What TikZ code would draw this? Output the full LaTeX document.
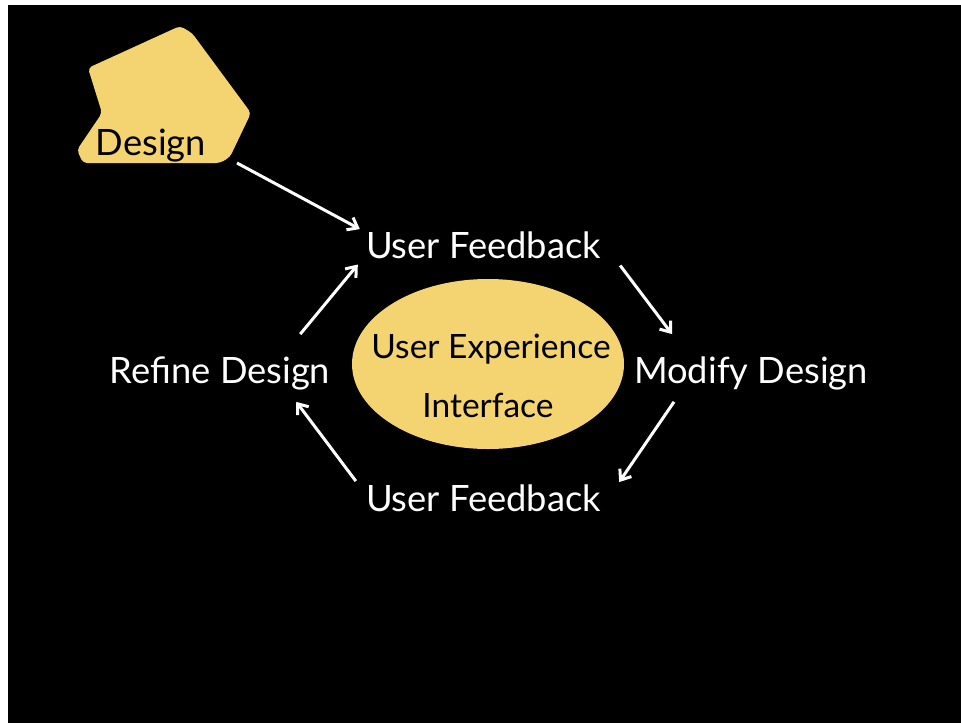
\documentclass[tikz,border=0pt]{standalone}
\usepackage{fontspec}
\setmainfont{Lato}
\usetikzlibrary{arrows.meta,shapes.geometric}
\definecolor{slideyellow}{RGB}{243,212,112}

\begin{document}
\begin{tikzpicture}[x=1pt, y=-1pt,
    step label/.style={text=white, font=\fontsize{36.3}{42}\selectfont, inner sep=0pt, anchor=base},
    inner label/.style={text=black, font=\fontsize{33.5}{40}\selectfont, inner sep=0pt, anchor=base},
    bubble/.style={ellipse, fill=slideyellow, minimum width=272pt, minimum height=170pt, inner sep=0pt},
    arrow/.style={-{Straight Barb[length=9pt,width=14pt]}, white, line width=3pt}]

    \useasboundingbox[fill=white] (0,0) rectangle (961,723);
    \fill[black] (8,5) rectangle (961,723);

    % torn yellow patch behind the start label
    \fill[slideyellow, rounded corners=4pt] (88,68) -- (180,26) -- (192,33) -- (251,113)
        -- (230,157) -- (220,163) -- (83,163) -- (77,150) -- (102,113) -- cycle;
    \node[step label, text=black] (design) at (151,155) {Design};
    \coordinate (patch) at (237,163);

    \node[bubble] (ux) at (488,364) {};
    \node[inner label] (uxtop) at (491,358) {User Experience};
    \node[inner label] (uxbot) at (488,417) {Interface};

    \node[step label] (fbtop) at (483.5,258) {User Feedback};
    \node[step label] (modify) at (751,383) {Modify Design};
    \node[step label] (fbbot) at (483.5,511) {User Feedback};
    \node[step label] (refine) at (220,383) {Refine Design};

    \draw[arrow] (patch) -- ([shift={(-6,-2)}]fbtop.north west);
    \draw[arrow] ([shift={(19,7)}]fbtop.south east) -- ([shift={(38,-22)}]modify.north west);
    \draw[arrow] ([shift={(40,12)}]modify.south west) -- ([shift={(18,-2)}]fbbot.north east);
    \draw[arrow] ([shift={(-10,-3)}]fbbot.north west) -- ([shift={(-34,12)}]refine.south east);
    \draw[arrow] ([shift={(-30,-22)}]refine.north east) -- ([shift={(-8,6)}]fbtop.south west);
\end{tikzpicture}
\end{document}
